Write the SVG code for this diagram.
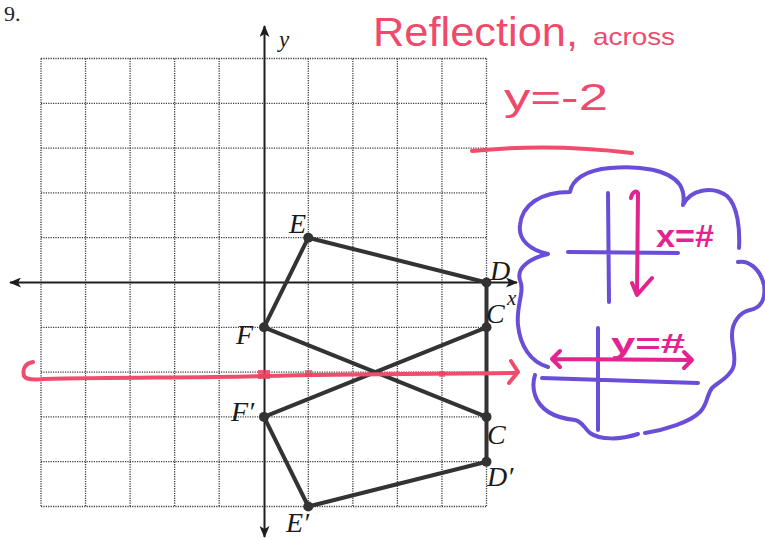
<svg xmlns="http://www.w3.org/2000/svg" width="765" height="540" viewBox="0 0 765 540">
<defs>
<style>
.grid{stroke:#3a3a3a;stroke-width:1.3;stroke-dasharray:1.2 1.2;fill:none}
.axis{stroke:#1e1e1e;stroke-width:2;fill:none}
.seg{stroke:#333;stroke-width:4;stroke-linecap:round;fill:none}
.pt{fill:#333}
.lbl{font-family:"Liberation Serif",serif;font-style:italic;font-size:28px;fill:#1a1a1a}
.red{stroke:#f04d6c;stroke-width:4;fill:none;stroke-linecap:round;stroke-linejoin:round}
.redtxt{font-family:"Liberation Sans",sans-serif;fill:#ef4a6b}
.pur{stroke:#6a4ed8;stroke-width:4;fill:none;stroke-linecap:round;stroke-linejoin:round}
.mag{stroke:#e3238f;stroke-width:4;fill:none;stroke-linecap:round;stroke-linejoin:round}
.magtxt{font-family:"Liberation Sans",sans-serif;font-weight:bold;fill:#e3238f}
</style>
<marker id="arr" viewBox="0 0 12 10" refX="11" refY="5" markerWidth="12" markerHeight="10" markerUnits="userSpaceOnUse" orient="auto-start-reverse">
<path d="M0,0 L12,5 L0,10 L3,5 Z" fill="#1e1e1e"/>
</marker>
</defs>
<rect width="765" height="540" fill="#fff"/>
<text x="4" y="21" font-family="Liberation Serif, serif" font-size="22" fill="#222">9.</text>
<g id="grid">
<path class="grid" d="M41,58.5V506.5M85.55,58.5V506.5M130.1,58.5V506.5M174.65,58.5V506.5M219.2,58.5V506.5M308.3,58.5V506.5M352.85,58.5V506.5M397.4,58.5V506.5M441.95,58.5V506.5M486.5,58.5V506.5"/>
<path class="grid" d="M41,58.5H486.5M41,103.3H486.5M41,148.1H486.5M41,192.9H486.5M41,237.7H486.5M41,327.3H486.5M41,372.1H486.5M41,416.9H486.5M41,461.7H486.5M41,506.5H486.5"/>
</g>
<g id="axes">
<line class="axis" x1="10" y1="282.5" x2="517" y2="282.5" marker-start="url(#arr)" marker-end="url(#arr)"/>
<line class="axis" x1="264.5" y1="26" x2="264.5" y2="537" marker-start="url(#arr)" marker-end="url(#arr)"/>
<text class="lbl" x="279" y="47" style="font-size:23px">y</text>
<text class="lbl" x="507" y="305" style="font-size:21px">x</text>
</g>
<g id="connectors">
<line class="seg" x1="308.3" y1="237.7" x2="486.5" y2="282.5"/>
<line class="seg" x1="308.3" y1="237.7" x2="264" y2="327.3"/>
<line class="seg" x1="486.5" y1="282.5" x2="486.5" y2="461.7"/>
<line class="seg" x1="264" y1="327.3" x2="486.5" y2="416.9"/>
<line class="seg" x1="264" y1="416.9" x2="486.5" y2="327.3"/>
<line class="seg" x1="264" y1="416.9" x2="308.3" y2="506.5"/>
<line class="seg" x1="308.3" y1="506.5" x2="486.5" y2="461.7"/>
</g>
<g id="E"><circle class="pt" cx="308.3" cy="237.7" r="5"/><text class="lbl" x="289" y="233">E</text></g>
<g id="D"><circle class="pt" cx="486.5" cy="282.5" r="5"/><text class="lbl" x="490" y="280">D</text></g>
<g id="C1"><circle class="pt" cx="486.5" cy="327.3" r="5"/><text class="lbl" x="486" y="323">C</text></g>
<g id="F"><circle class="pt" cx="264" cy="327.3" r="5"/><text class="lbl" x="236" y="344">F</text></g>
<g id="Fp"><circle class="pt" cx="264" cy="416.9" r="5"/><text class="lbl" x="231" y="421">F′</text></g>
<g id="C"><circle class="pt" cx="486.5" cy="416.9" r="5"/><text class="lbl" x="487" y="444">C</text></g>
<g id="Dp"><circle class="pt" cx="486.5" cy="461.7" r="5"/><text class="lbl" x="487" y="486">D′</text></g>
<g id="Ep"><circle class="pt" cx="308.3" cy="506.5" r="5"/><text class="lbl" x="286" y="532">E′</text></g>
<g id="reflection-line">
<path class="red" d="M33,362 C26,363 22,368 24,376 C26,380 34,380 44,379 C120,377 200,378 264,376 C350,374 430,374 516,373"/>
<path class="red" d="M511,361 L518,372 L509,383"/>
<rect x="258" y="370" width="12" height="9" fill="#e8405e" opacity="0.8"/>
<rect x="305" y="370" width="7" height="7" fill="#e8405e" opacity="0.7"/>
<rect x="439" y="371" width="6" height="6" fill="#e8405e" opacity="0.6"/>
</g>
<g id="note">
<text class="redtxt" x="373" y="46" font-size="40" textLength="205" lengthAdjust="spacingAndGlyphs">Reflection,</text>
<text class="redtxt" x="593" y="45" font-size="24" textLength="82" lengthAdjust="spacingAndGlyphs">across</text>
<text class="redtxt" x="504" y="110" font-size="36" textLength="104" lengthAdjust="spacingAndGlyphs">y=-2</text>
<path class="red" d="M472,151 Q550,143 632,153" stroke-width="3"/>
</g>
<g id="cloud">
<path class="pur" d="M548,367 C530,362 520,345 518,325 C516,305 525,292 520,280 C516,268 530,258 548,254 C530,250 518,240 520,225 C522,205 540,192 570,192 C572,180 585,170 610,168 C640,165 670,170 680,185 C684,192 684,200 683,205 C690,190 712,185 727,196 C738,206 740,230 739,248"/>
<path class="pur" d="M738,262 C748,260 760,268 764,285 C766,300 760,308 750,310 C740,312 732,322 732,335 C732,348 737,358 733,368 C729,378 718,382 712,388 C706,396 708,404 700,412 C690,422 665,430 645,433"/>
<path class="pur" d="M638,434 C620,440 600,440 590,433 C584,428 583,422 575,420 C555,418 540,410 535,395 C532,385 534,378 535,375"/>
<path class="pur" d="M608,193 L609,302 M568,252 L678,253"/>
<path class="mag" d="M631,198 C632,192 636,190 638,193 L637,294 M632,283 L637,295 L652,278"/>
<text class="magtxt" x="656" y="247" font-size="32" textLength="58" lengthAdjust="spacingAndGlyphs">x=#</text>
<path class="pur" d="M598,328 L598,430 M542,378 L698,383"/>
<path class="mag" d="M552,359 L692,360 M560,351 L552,359 L560,367 M684,352 L692,360 L684,368"/>
<text class="magtxt" x="611" y="353" font-size="28" textLength="74" lengthAdjust="spacingAndGlyphs">y=#</text>
</g>
</svg>
